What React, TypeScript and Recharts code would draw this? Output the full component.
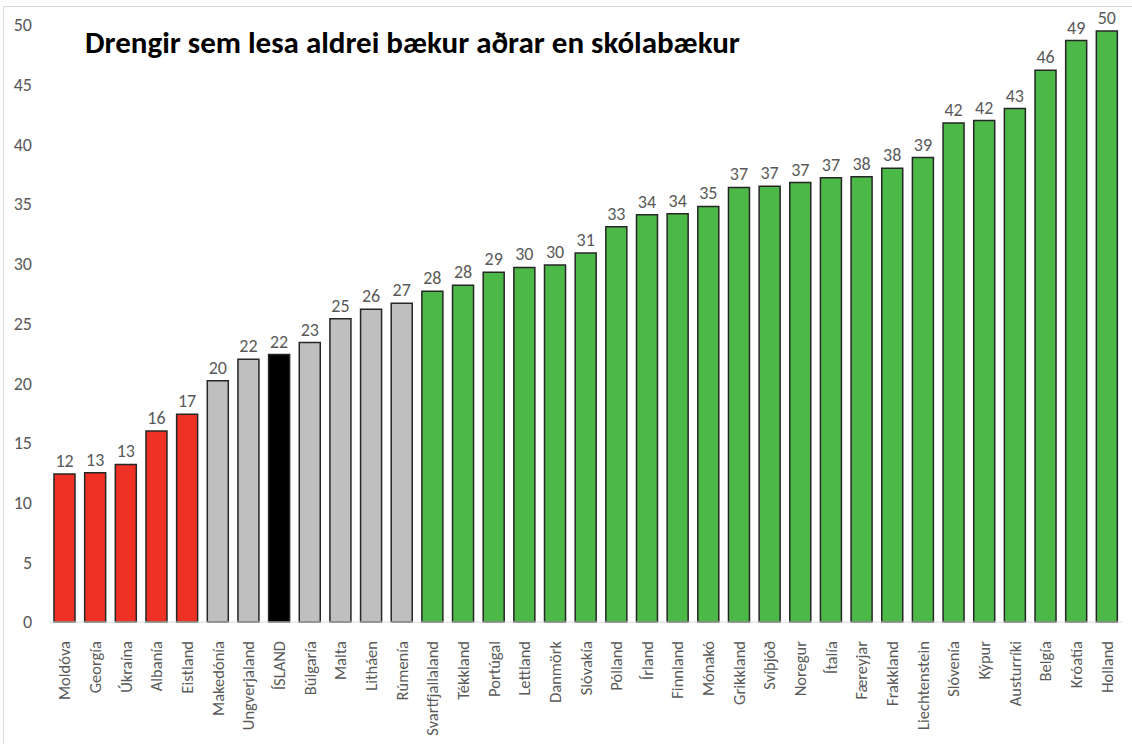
import { BarChart, Bar, XAxis, YAxis, Cell, LabelList } from "recharts";

const countries = [
  "Moldóva", "Georgía", "Úkraína", "Albanía", "Eistland", "Makedónía", "Ungverjaland", "ÍSLAND",
  "Búlgaría", "Malta", "Litháen", "Rúmenía", "Svartfjallaland", "Tékkland", "Portúgal", "Lettland",
  "Danmörk", "Slóvakía", "Pólland", "Írland", "Finnland", "Mónakó", "Grikkland", "Svíþjóð",
  "Noregur", "Ítalía", "Færeyjar", "Frakkland", "Liechtenstein", "Slóvenía", "Kýpur", "Austurríki",
  "Belgía", "Króatía", "Holland",
];

// bar heights
const values = [
  12.4, 12.5, 13.2, 16.0, 17.4, 20.2, 22.0, 22.4, 23.4, 25.4, 26.2, 26.7, 27.7, 28.2, 29.3, 29.7,
  29.9, 30.9, 33.1, 34.1, 34.2, 34.8, 36.4, 36.5, 36.8, 37.2, 37.3, 38.0, 38.9, 41.8, 42.0, 43.0,
  46.2, 48.7, 49.5,
];

// the rounded numbers printed above the bars
const labels = [
  12, 13, 13, 16, 17, 20, 22, 22, 23, 25, 26, 27, 28, 28, 29, 30,
  30, 31, 33, 34, 34, 35, 37, 37, 37, 37, 38, 38, 39, 42, 42, 43,
  46, 49, 50,
];

const groups = [
  "low", "low", "low", "low", "low", "mid", "mid", "is", "mid", "mid", "mid", "mid",
  ...Array(23).fill("high"),
];

const yTicks = [0, 5, 10, 15, 20, 25, 30, 35, 40, 45, 50];

const groupColors: Record<string, string> = {
  low: "#ee3124",
  mid: "#bfbfbf",
  is: "#000000",
  high: "#4cb848",
};

const data = countries.map((name, i) => ({ name, value: values[i], label: labels[i], group: groups[i] }));

const font = "Calibri, Carlito, 'Open Sans', sans-serif";

function CountryTick(props: any) {
  const { x, y, payload } = props;
  return (
    <text
      x={x}
      y={y}
      transform={`rotate(-90, ${x}, ${y}) translate(-11, 6)`}
      textAnchor="end"
      fill="#595959"
      fontSize={16.5}
      fontFamily={font}
    >
      {payload.value}
    </text>
  );
}

export default function App() {
  return (
    <div style={{ position: "fixed", left: 0, top: 0, width: 1132, height: 744, background: "#fff" }}>
      <div style={{ position: "absolute", left: 3, top: 6, right: 0, height: 1, background: "#d9d9d9" }} />
      <div style={{ position: "absolute", left: 3, top: 6, bottom: 0, width: 1, background: "#d9d9d9" }} />
      <div
        style={{
          position: "absolute",
          left: 85,
          top: 27,
          fontFamily: font,
          fontWeight: 700,
          fontSize: 31,
          lineHeight: 1,
          color: "#000",
          whiteSpace: "nowrap",
        }}
      >
        Drengir sem lesa aldrei bækur aðrar en skólabækur
      </div>
      <BarChart
        width={1132}
        height={744}
        data={data}
        margin={{ top: 25, right: 10, bottom: 0, left: 0 }}
        barCategoryGap="31%"
      >
        <XAxis
          dataKey="name"
          interval={0}
          height={122}
          axisLine={{ stroke: "#d9d9d9" }}
          tickLine={false}
          tick={<CountryTick />}
        />
        <YAxis
          domain={[0, 50]}
          ticks={yTicks}
          width={49}
          axisLine={false}
          tickLine={false}
          tickSize={0}
          tickMargin={17}
          tick={{ fill: "#595959", fontSize: 18, fontFamily: font }}
        />
        <Bar dataKey="value" barSize={21} stroke="#262626" strokeWidth={1.5} isAnimationActive={false}>
          {data.map((d, i) => (
            <Cell key={i} fill={groupColors[d.group]} />
          ))}
          <LabelList dataKey="label" position="top" offset={7} fill="#595959" fontSize={18} fontFamily={font} />
        </Bar>
      </BarChart>
    </div>
  );
}
